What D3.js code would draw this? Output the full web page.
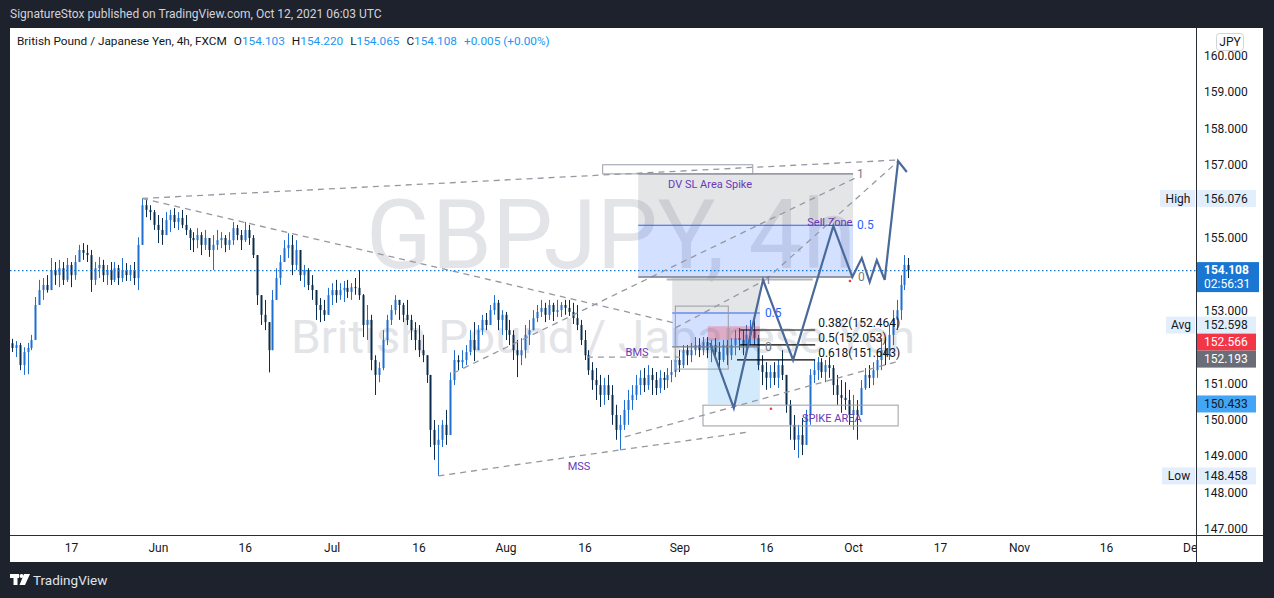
<!DOCTYPE html>
<html><head><meta charset="utf-8">
<script src="https://cdn.jsdelivr.net/npm/d3@7"></script>
<style>
html,body{margin:0;padding:0;background:#1e222d;overflow:hidden;}
svg{display:block;}
text{font-family:Roboto,"Liberation Sans",Arial,sans-serif;}
</style></head><body>
<svg id="c" width="1274" height="598"></svg>
<script>
// ---------------- DATA ----------------
const headerText = "SignatureStox published on TradingView.com, Oct 12, 2021 06:03 UTC";
const symbolTitle = "British Pound / Japanese Yen, 4h, FXCM";
const lastOHLC = {O:"154.103", H:"154.220", L:"154.065", C:"154.108", chg:"+0.005 (+0.00%)"};
const watermarkTop = "GBPJPY, 4h";
const watermarkBottom = "British Pound / Japanese Yen";

// 12-hour candles starting at this time (trading days only)
const candleStart = "2021-05-05T12:00";
const firstOpen = 152.10;
const closes = [
151.97,152.05,151.50,151.86,151.97,152.19,153.15,153.56,153.70,153.56,
154.11,153.97,154.16,153.84,154.25,153.97,154.33,154.66,154.58,154.52,
153.84,154.16,154.25,153.97,154.11,153.84,154.16,153.89,154.11,153.97,
154.11,153.89,154.80,155.89,155.76,155.70,155.35,155.21,155.07,155.48,
155.62,155.43,155.54,155.35,155.21,154.99,154.93,155.07,154.80,154.99,
154.66,154.80,154.93,154.99,154.80,154.93,155.26,155.07,154.93,155.21,
154.99,154.52,153.42,152.88,152.68,151.91,153.29,153.89,154.33,154.71,
154.80,154.25,154.66,153.97,154.11,153.70,153.56,153.15,153.01,152.88,
153.42,153.56,153.42,153.56,153.62,153.51,153.64,153.62,153.42,152.60,
152.74,151.64,151.23,151.42,152.19,152.74,153.01,153.29,153.15,152.88,
152.74,152.46,152.19,151.91,151.77,151.23,149.72,149.31,149.45,149.86,
149.58,151.09,151.64,151.58,151.64,151.86,152.19,151.91,152.46,152.74,
152.60,153.01,153.21,152.74,152.88,152.46,152.33,151.91,151.77,151.91,
152.33,152.46,152.79,152.96,153.07,152.88,153.15,152.96,153.01,153.15,
153.07,152.96,152.79,152.60,152.19,151.77,151.36,151.09,150.95,150.68,
150.95,150.68,150.13,149.72,149.86,150.27,150.54,150.68,150.95,151.15,
150.95,151.23,151.09,150.87,151.15,151.09,151.23,151.31,151.64,151.50,
151.91,151.77,151.91,152.05,151.91,152.13,151.91,152.05,151.86,151.64,
152.05,151.77,152.05,152.24,152.19,152.05,152.33,152.46,152.24,151.50,
151.31,151.15,151.31,151.15,151.50,151.23,150.41,149.86,149.45,149.58,
149.31,150.13,151.23,151.36,151.58,151.31,151.50,151.42,150.95,150.68,
150.60,150.54,150.13,150.27,150.13,150.87,151.23,151.15,151.36,151.64,
151.91,151.77,152.33,152.74,153.01,153.70,154.25,154.108];
const highs = [
152.22,152.16,152.11,151.99,152.11,152.33,153.37,153.84,153.89,153.97,
154.44,154.33,154.39,154.33,154.44,154.33,154.52,154.80,154.85,154.80,
154.66,154.33,154.47,154.39,154.25,154.33,154.33,154.25,154.44,154.30,
154.25,154.33,155.01,156.076,156.03,155.89,155.76,155.62,155.54,155.70,
155.76,155.81,155.70,155.76,155.62,155.26,155.15,155.26,155.15,155.21,
154.99,155.07,155.21,155.15,155.07,155.15,155.43,155.35,155.21,155.43,
155.35,155.07,154.33,153.37,153.29,152.46,153.56,154.16,154.52,154.93,
155.12,155.07,154.93,154.44,154.25,154.16,153.97,153.56,153.34,153.29,
153.62,153.75,153.84,153.75,153.81,153.84,153.75,153.89,154.11,153.45,
153.15,152.88,151.77,151.58,152.46,152.88,153.15,153.42,153.29,153.21,
153.29,152.88,152.68,152.60,152.33,151.77,151.09,149.99,149.86,149.99,
150.27,151.30,151.91,151.77,151.91,152.05,152.46,152.68,152.60,152.88,
152.93,153.15,153.42,153.29,153.01,152.96,152.74,152.46,152.19,152.24,
152.60,152.74,153.01,153.15,153.29,153.21,153.29,153.21,153.29,153.23,
153.29,153.29,153.21,153.15,152.74,152.46,151.91,151.58,151.42,151.23,
151.15,151.23,150.95,150.41,150.13,150.54,150.82,150.95,151.23,151.36,
151.42,151.50,151.42,151.31,151.36,151.31,151.42,151.64,151.77,151.91,
152.05,152.05,152.11,152.27,152.24,152.27,152.27,152.19,152.24,152.13,
152.19,152.19,152.24,152.46,152.52,152.46,152.60,152.74,152.88,152.33,
151.77,151.58,151.50,151.58,151.64,151.91,151.23,150.54,150.13,149.86,
150.05,150.27,151.39,151.64,151.72,151.69,151.64,151.72,151.50,151.23,
151.09,151.03,150.82,150.68,150.54,151.09,151.42,151.50,151.58,151.91,
152.19,152.24,152.60,153.01,153.29,153.97,154.52,154.44];
const lows = [
151.86,151.72,151.36,151.23,151.25,151.91,152.46,153.15,153.29,153.49,
153.56,153.70,153.64,153.70,153.78,153.64,153.84,154.33,154.39,154.33,
153.51,153.70,153.89,153.78,153.70,153.70,153.78,153.70,153.78,153.81,
153.81,153.70,153.56,155.62,155.56,155.48,155.21,154.85,154.80,155.07,
155.15,155.26,155.21,155.26,155.07,154.66,154.60,154.71,154.52,154.66,
154.47,154.11,154.66,154.71,154.60,154.66,154.80,154.93,154.66,154.88,
154.80,154.44,153.15,152.60,152.46,151.30,152.05,153.29,153.70,154.33,
154.44,153.97,154.11,153.81,153.64,153.56,153.29,152.74,152.68,152.71,
152.88,153.15,153.21,153.29,153.23,153.34,153.29,153.43,153.29,152.27,
152.19,151.36,150.68,151.03,151.36,152.05,152.60,152.88,152.74,152.68,
152.60,152.19,151.91,151.72,151.58,151.01,149.25,148.90,148.458,149.25,
149.31,149.99,150.95,151.36,151.42,151.50,151.77,151.61,152.05,152.33,
152.46,152.60,152.88,152.46,152.33,152.19,152.05,151.64,151.17,151.50,
151.69,152.05,152.46,152.68,152.82,152.68,152.74,152.71,152.82,152.82,
152.88,152.85,152.63,152.46,152.05,151.64,151.23,150.82,150.54,150.35,
150.41,150.54,149.86,149.45,149.17,149.72,149.86,150.27,150.54,150.68,
150.76,150.82,150.68,150.68,150.73,150.82,150.87,151.03,151.17,151.31,
151.42,151.50,151.58,151.77,151.72,151.77,151.69,151.58,151.64,151.42,
151.58,151.50,151.64,151.77,151.91,151.77,151.86,152.05,152.05,151.36,
150.95,150.82,150.87,150.95,150.87,151.09,150.19,149.45,149.17,148.95,
149.03,149.45,149.86,151.01,151.09,151.15,151.03,151.15,150.68,150.41,
150.19,150.27,149.86,149.72,149.45,150.13,150.82,150.87,150.95,151.15,
151.36,151.50,151.64,152.05,152.46,152.74,153.56,153.89];

const priceTicks = [147,148,149,150,151,153,155,157,158,159,160];
const timeTickDates = ["2021-05-17","2021-06-01","2021-06-16","2021-07-01","2021-07-16","2021-08-01","2021-08-16","2021-09-01","2021-09-16","2021-10-01","2021-10-17","2021-11-01","2021-11-16","2021-12-01"];
const timeTickLabels = ["17","Jun","16","Jul","16","Aug","16","Sep","16","Oct","17","Nov","16","Dec"];

// price-scale tags
const highValue = 156.076, lowValue = 148.458, avgValue = 152.598;
const lastValue = 154.108, countdown = "02:56:31";
const riskValue = 152.566, entryValue = 152.193, targetValue = 150.433;
const currencyLabel = "JPY";

// drawings: time in trading sessions since 2021-05-17, price in JPY
const dashedLines = [
  [9.0,156.076, 104.6,157.13],
  [9.0,156.076, 76.5,152.65],
  [46.5,148.458, 69.5,149.17],
  [69.5,149.17, 85.7,149.66],
  [70.1,149.53, 105.0,151.62],
  [65.3,151.72, 77.1,151.72],
  [48.4,151.28, 99.5,156.66],
  [76.5,152.52, 87.9,153.84],
  [87.9,153.84, 104.6,157.08]
];
const zoneFib = {t0:71.8, t1:99.0, p1:156.75, p05:155.34, p0:153.92};
const smallFib = {t0:76.1, t1:87.2, p1:153.89, p05:152.93, p0:152.00, lineEnd:93.9, lineStart:75.4};
const outlineBoxes = [[76.5,153.12,83.2,151.39],[67.3,157.00,86.3,156.75],[80.0,150.40,104.7,149.83]];
const positionTimes = [80.6, 87.2];
const fibRatios = ["0.382","0.5","0.618"];
const fibPrices = [152.464,152.053,151.643];
const fibStarts = [84.7,84.7,84.3];
const fibEnd = 94.2;
const projection = [[80.9,152.11],[83.9,150.32],[87.6,153.84],[91.4,151.64],[96.5,155.32],[98.9,153.92],[100.1,154.44],[101.1,153.78],[102.0,154.38],[103.0,153.84],[104.7,157.10],[105.8,156.80]];
const notes = [
  {text:"DV SL Area Spike", t:80.9, p:156.47, a:"middle"},
  {text:"Sell Zone", t:93.2, p:155.43, a:"start"},
  {text:"BMS", t:71.65, p:151.86, a:"middle"},
  {text:"MSS", t:64.3, p:148.73, a:"middle"},
  {text:"SPIKE AREA", t:96.3, p:150.05, a:"middle"}
];
const redDots = [[88.6,150.30],[98.6,153.81]];

// ---------------- HELPERS ----------------
const BASE = Date.UTC(2021,4,17);
function dayIndex(s){
  const [dp,tp] = s.split("T");
  const [Y,M,D] = dp.split("-").map(Number);
  const d = Date.UTC(Y,M-1,D), step = 86400000;
  const wd = t => { const w = new Date(t).getUTCDay(); return w>0 && w<6; };
  let n = 0;
  if (d >= BASE) { for (let t=BASE; t<d; t+=step) if (wd(t)) n++; }
  else { for (let t=d; t<BASE; t+=step) if (wd(t)) n--; }
  if (tp) { const [h,m] = tp.split(":").map(Number); n += (h + m/60)/24; }
  return n;
}

// ---------------- LAYOUT ----------------
const W = 1274, H = 598;
const L = 10, R = 1196, T = 28, B = 535, PR = 1263, PB = 562;
const x = d3.scaleLinear().domain([0,100]).range([71,861]);
const y = d3.scaleLinear().domain([147,160]).range([529,55.5]);

const svg = d3.select("#c");
svg.append("rect").attr("width",W).attr("height",H).attr("fill","#1e222d");
svg.append("rect").attr("x",L).attr("y",T).attr("width",PR-L).attr("height",PB-T).attr("fill","#ffffff");

const defs = svg.append("defs");
defs.append("clipPath").attr("id","clip")
  .append("rect").attr("x",L).attr("y",T).attr("width",R-L).attr("height",B-T);
defs.append("clipPath").attr("id","xclip").append("rect").attr("x",L).attr("y",B).attr("width",R-L).attr("height",PB-B);
const g = svg.append("g").attr("clip-path","url(#clip)");

// watermark
g.append("text").attr("x",366).attr("y",268).attr("font-size",96).attr("fill","#e3e4e8")
  .attr("textLength",490).attr("lengthAdjust","spacingAndGlyphs").text(watermarkTop);
g.append("text").attr("x",291).attr("y",353).attr("font-size",47).attr("fill","#e3e4e8")
  .attr("textLength",624).attr("lengthAdjust","spacingAndGlyphs").text(watermarkBottom);

// candles
const t0 = dayIndex(candleStart);
const candles = closes.map((c,i)=>{
  const o = i ? closes[i-1] : firstOpen;
  return {t: t0 + i*0.5, o, c, h: Math.max(highs[i],o,c), l: Math.min(lows[i],o,c)};
});
const upC = "#1f6fd1", dnC = "#0b2d4d";
const cg = g.append("g");
cg.selectAll("line.w").data(candles).join("line").attr("class","w")
  .attr("x1",d=>Math.round(x(d.t))+0.5).attr("x2",d=>Math.round(x(d.t))+0.5)
  .attr("y1",d=>y(d.h)).attr("y2",d=>y(d.l))
  .attr("stroke",d=>d.c>=d.o?upC:dnC).attr("stroke-width",1);
cg.selectAll("rect.b").data(candles).join("rect").attr("class","b")
  .attr("x",d=>Math.round(x(d.t))-0.5).attr("width",2)
  .attr("y",d=>y(Math.max(d.o,d.c))).attr("height",d=>Math.max(1,Math.abs(y(d.o)-y(d.c))))
  .attr("fill",d=>d.c>=d.o?upC:dnC);

// semi-transparent drawings over candles
const drawG = g.append("g");
const GRAY = "rgba(120,123,134,0.2)", BLUE = "rgba(41,98,255,0.2)";
function band(t0_, t1_, pa, pb, fill){
  drawG.append("rect").attr("x",x(t0_)).attr("y",y(pa)).attr("width",x(t1_)-x(t0_))
    .attr("height",y(pb)-y(pa)).attr("fill",fill);
}
band(zoneFib.t0, zoneFib.t1, zoneFib.p1, zoneFib.p05, GRAY);
band(zoneFib.t0, zoneFib.t1, zoneFib.p05, zoneFib.p0, BLUE);
band(smallFib.t0, smallFib.t1, smallFib.p1, smallFib.p05, GRAY);
band(smallFib.t0, smallFib.t1, smallFib.p05, smallFib.p0, BLUE);
band(positionTimes[0], positionTimes[1], entryValue, targetValue, "rgba(33,150,243,0.2)");
band(positionTimes[0], positionTimes[1], riskValue, entryValue, "rgba(242,54,69,0.3)");

// last price dotted line
g.append("line").attr("x1",L).attr("x2",R).attr("y1",y(lastValue)+0.5).attr("y2",y(lastValue)+0.5)
  .attr("stroke","#1976d2").attr("stroke-width",1.2).attr("stroke-dasharray","1.5,2.5");

// lines on top
const topG = g.append("g");
topG.selectAll("line.d").data(dashedLines).join("line").attr("class","d")
  .attr("x1",d=>x(d[0])).attr("y1",d=>y(d[1])).attr("x2",d=>x(d[2])).attr("y2",d=>y(d[3]))
  .attr("stroke","#9598a1").attr("stroke-width",1.3).attr("stroke-dasharray","6,5");

function hline(t0_, t1_, p, col, w, off){
  topG.append("line").attr("x1",x(t0_)).attr("x2",x(t1_)).attr("y1",y(p)+(off||0)).attr("y2",y(p)+(off||0))
    .attr("stroke",col).attr("stroke-width",w);
}
hline(zoneFib.t0, zoneFib.t1, zoneFib.p1, "#787b86", 1.2);
hline(zoneFib.t0, zoneFib.t1, zoneFib.p05, "#2962ff", 1.2);
hline(zoneFib.t0, zoneFib.t1, zoneFib.p0, "#787b86", 1.5);
hline(smallFib.lineStart, smallFib.lineEnd, smallFib.p1, "#b2b5be", 2, 1.5);
hline(smallFib.t0, smallFib.t1, smallFib.p05, "#2962ff", 1.2);
hline(smallFib.t0, smallFib.t1, smallFib.p0, "#787b86", 1.2);

// outline boxes
topG.selectAll("rect.o").data(outlineBoxes).join("rect").attr("class","o")
  .attr("x",d=>x(d[0])).attr("y",d=>y(d[1])).attr("width",d=>x(d[2])-x(d[0])).attr("height",d=>y(d[3])-y(d[1]))
  .attr("fill","none").attr("stroke","#9a9da6").attr("stroke-width",1);

// fib retracement lines (black)
fibPrices.forEach((p,i)=> hline(fibStarts[i], fibEnd, p, "#000", 1.2));

// projection path
topG.append("path").datum(projection)
  .attr("d",d3.line().x(d=>x(d[0])).y(d=>y(d[1])))
  .attr("fill","none").attr("stroke","#4a6a9a").attr("stroke-width",2.2).attr("stroke-linejoin","miter");

// red dots
topG.selectAll("circle").data(redDots).join("circle").attr("cx",d=>x(d[0])).attr("cy",d=>y(d[1])).attr("r",1.3).attr("fill","#f23645");

// labels
const lbl = (t,p,txt,col,anchor,size)=>topG.append("text").attr("x",t).attr("y",p).attr("dy","0.35em")
  .attr("fill",col).attr("font-size",size||12).attr("text-anchor",anchor||"start").text(txt);
lbl(x(zoneFib.t1)+4, y(zoneFib.p1), "1", "#787b86");
lbl(x(zoneFib.t1)+4, y(zoneFib.p05), "0.5", "#2962ff");
lbl(x(zoneFib.t1)+5, y(zoneFib.p0), "0", "#787b86");
lbl(x(smallFib.t1)+5, y(smallFib.p1)+2, "1", "#787b86", "start", 11);
lbl(x(smallFib.t1)+5, y(smallFib.p05), "0.5", "#2962ff");
lbl(x(smallFib.t1)+5, y(smallFib.p0), "0", "#787b86");
fibPrices.forEach((p,i)=>{
  lbl(x(fibEnd)+3, y(p)-7, `${fibRatios[i]}(${p.toFixed(3)})`, "#131722", "start", 12);
});
notes.forEach(n=>lbl(x(n.t), y(n.p), n.text, "#673ab7", n.a, 11));

// ---------------- AXES ----------------
svg.append("line").attr("x1",L).attr("x2",PR).attr("y1",B+0.5).attr("y2",B+0.5).attr("stroke","#2a2e39");
svg.append("line").attr("x1",R+0.5).attr("x2",R+0.5).attr("y1",T).attr("y2",PB).attr("stroke","#2a2e39");

const yAxis = svg.append("g").attr("transform",`translate(${R},0)`)
  .call(d3.axisRight(y).tickValues(priceTicks).tickFormat(d3.format(".3f")).tickSize(0).tickPadding(8));
yAxis.select(".domain").remove();
yAxis.selectAll("text").attr("font-size",12).attr("fill","#131722").attr("font-family","Roboto,'Liberation Sans',sans-serif");

const xg = svg.append("g").attr("clip-path","url(#xclip)");
const xAxis = xg.append("g").attr("transform",`translate(0,${B})`)
  .call(d3.axisBottom(x).tickValues(timeTickDates.map(dayIndex)).tickFormat((d,i)=>timeTickLabels[i]).tickSize(0).tickPadding(8));
xAxis.select(".domain").remove();
xAxis.selectAll("text").attr("font-size",12).attr("fill","#131722").attr("font-family","Roboto,'Liberation Sans',sans-serif");

// price tags
function tag(value, yy, bg, fg, txt){
  svg.append("rect").attr("x",R+1).attr("y",yy-8.5).attr("width",59).attr("height",17).attr("fill",bg);
  svg.append("text").attr("x",R+8).attr("y",yy).attr("dy","0.35em").attr("font-size",12).attr("fill",fg).text(txt||value.toFixed(3));
}
function side(label, yy, w){
  svg.append("rect").attr("x",R-w).attr("y",yy-8.5).attr("width",w-1).attr("height",17).attr("fill","#e3eefc");
  svg.append("text").attr("x",R-w/2).attr("y",yy).attr("dy","0.35em").attr("text-anchor","middle").attr("font-size",12).attr("fill","#131722").text(label);
}
const tagBg = "#e3eefc";
tag(highValue, y(highValue), tagBg, "#131722"); side("High", y(highValue), 36);
tag(avgValue, y(avgValue), tagBg, "#131722"); side("Avg", y(avgValue), 30);
tag(lowValue, y(lowValue), tagBg, "#131722"); side("Low", y(lowValue), 34);
const yRisk = Math.max(y(riskValue), y(avgValue)+17);
tag(riskValue, yRisk, "#f23645", "#ffffff");
const yEntry = Math.max(y(entryValue), yRisk+17);
tag(entryValue, yEntry, "#6a6d78", "#ffffff");
tag(targetValue, y(targetValue), "#42a5f5", "#131722");
// last price
const yl = y(lastValue);
svg.append("rect").attr("x",R+1).attr("y",yl-8).attr("width",62).attr("height",30).attr("fill","#1976d2");
svg.append("text").attr("x",R+8).attr("y",yl).attr("dy","0.35em").attr("font-size",12).attr("font-weight","bold").attr("fill","#fff").text(lastValue.toFixed(3));
svg.append("text").attr("x",R+8).attr("y",yl+14).attr("dy","0.35em").attr("font-size",12).attr("fill","#fff").text(countdown);
// currency
svg.append("rect").attr("x",1216.5).attr("y",33.5).attr("width",27).attr("height",17).attr("rx",3).attr("fill","#fff").attr("stroke","#d1d4dc");
svg.append("text").attr("x",1230).attr("y",42).attr("dy","0.35em").attr("text-anchor","middle").attr("font-size",12).attr("fill","#131722").text(currencyLabel);

// ---------------- HEADER / LEGEND ----------------
svg.append("text").attr("x",10).attr("y",14).attr("dy","0.35em").attr("font-size",12).attr("fill","#d1d4dc").text(headerText);
const lg = svg.append("text").attr("x",17).attr("y",41).attr("dy","0.35em").attr("font-size",11.8).attr("fill","#131722");
lg.append("tspan").text(symbolTitle);
[["O",lastOHLC.O],["H",lastOHLC.H],["L",lastOHLC.L],["C",lastOHLC.C]].forEach(([k,v])=>{
  lg.append("tspan").attr("dx",7).attr("fill","#131722").text(k);
  lg.append("tspan").attr("fill","#2196f3").text(v);
});
lg.append("tspan").attr("dx",7).attr("fill","#2196f3").text(lastOHLC.chg);

// ---------------- FOOTER LOGO ----------------
const lgo = svg.append("g").attr("fill","#ffffff");
lgo.append("rect").attr("x",10).attr("y",574).attr("width",9).attr("height",4);
lgo.append("rect").attr("x",13.5).attr("y",574).attr("width",4).attr("height",11);
lgo.append("circle").attr("cx",21.5).attr("cy",576).attr("r",2);
lgo.append("path").attr("d","M24,574 L30,574 L25,585 L19.5,585 Z");
svg.append("text").attr("x",33).attr("y",580).attr("dy","0.35em").attr("font-size",13.5).attr("fill","#e0e3eb").text("TradingView");
</script>
</body></html>
